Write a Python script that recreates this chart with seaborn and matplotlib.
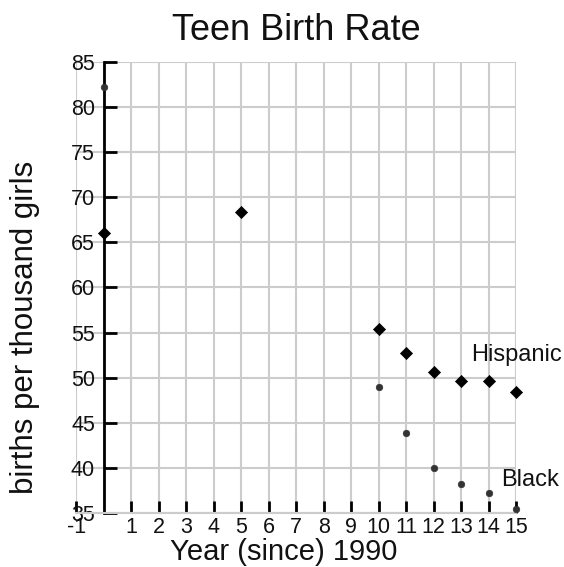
import numpy as np
import pandas as pd
import matplotlib
matplotlib.use('Agg')
import matplotlib.pyplot as plt
import seaborn as sns

sns.set_style('white')
plt.rcParams['font.family'] = ['Liberation Sans', 'DejaVu Sans']

# years since 1990 and rates (births per thousand girls)
black_years = [0, 5, 10, 11, 12, 13, 14, 15]
black_rates = [82.2, 68.4, 49.0, 43.9, 40.0, 38.2, 37.2, 35.4]
hisp_years = [0, 5, 10, 11, 12, 13, 14, 15]
hisp_rates = [66.0, 68.4, 55.4, 52.7, 50.6, 49.6, 49.6, 48.4]

x_ticks = list(range(-1, 16))
x_labels = [str(t) if t != 0 else '' for t in x_ticks]
y_ticks = list(range(35, 90, 5))

black = pd.DataFrame({'year': black_years, 'rate': black_rates})
hisp = pd.DataFrame({'year': hisp_years, 'rate': hisp_rates})

fig = plt.figure(figsize=(5.64, 5.67), dpi=100)
ax = fig.add_axes([0.1356, 0.0952, 0.915 - 0.1356, 0.8907 - 0.0952])

ax.set_xlim(-1, 15)
ax.set_ylim(35, 85)
ax.grid(True, color='#cccccc', linewidth=1.5)
ax.set_axisbelow(True)

sns.scatterplot(data=black, x='year', y='rate', marker='o', s=22, color='#333333',
                edgecolor='#333333', linewidth=0.5, ax=ax, clip_on=False, zorder=4)
sns.scatterplot(data=hisp, x='year', y='rate', marker='D', s=38, color='black',
                edgecolor='black', linewidth=0.5, ax=ax, clip_on=False, zorder=5)

ax.set_xticks(x_ticks)
ax.set_xticklabels(x_labels)
ax.set_yticks(y_ticks)

for s in ['top', 'right']:
    ax.spines[s].set_visible(False)
ax.spines['left'].set_position(('data', 0))
ax.spines['left'].set_color('black')
ax.spines['left'].set_linewidth(2)
ax.spines['bottom'].set_color('#cccccc')
ax.spines['bottom'].set_linewidth(1.5)

ax.tick_params(axis='both', direction='in', length=9, width=2, color='black',
               labelsize=15.5, labelcolor='#111111')
ax.tick_params(axis='x', bottom=True, pad=3)
ax.tick_params(axis='y', left=True, pad=6.5)
ax.xaxis.get_major_ticks()[1].tick1line.set_visible(False)

ax.text(13.38, 52.5, 'Hispanic', fontsize=17, va='center', ha='left', color='#111111')
ax.text(14.47, 38.66, 'Black', fontsize=17, va='center', ha='left', color='#111111')

ax.set_xlabel('Year (since) 1990', fontsize=21, color='#111111')
ax.set_ylabel('births per thousand girls', fontsize=22.5, color='#111111')
ax.xaxis.label.set_va('center')
ax.yaxis.label.set_va('center')
ax.xaxis.set_label_coords(0.471, -0.087)
ax.yaxis.set_label_coords(-0.117, 0.411)
ax.set_title('Teen Birth Rate', fontsize=26, pad=16, color='#111111')

fig.savefig('out.png', dpi=100)
